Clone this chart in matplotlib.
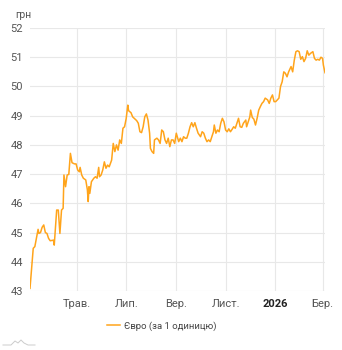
import numpy as np
import pandas as pd
import matplotlib
matplotlib.use("Agg")
import matplotlib.pyplot as plt
from matplotlib.lines import Line2D

plt.rcParams['font.family'] = ['Roboto', 'DejaVu Sans']

# Курс євро (грн за 1 EUR)
dates = [
    "2025-03-04", "2025-03-08", "2025-03-10", "2025-03-14", "2025-03-15", "2025-03-17",
    "2025-03-19", "2025-03-21", "2025-03-23", "2025-03-25", "2025-03-27", "2025-03-29",
    "2025-04-02", "2025-04-03", "2025-04-06", "2025-04-08", "2025-04-10", "2025-04-12",
    "2025-04-14", "2025-04-15", "2025-04-17", "2025-04-19", "2025-04-21", "2025-04-23",
    "2025-04-25", "2025-04-28", "2025-04-30", "2025-05-02", "2025-05-04", "2025-05-05",
    "2025-05-07", "2025-05-09", "2025-05-12", "2025-05-14", "2025-05-15", "2025-05-16",
    "2025-05-17", "2025-05-19", "2025-05-22", "2025-05-24", "2025-05-26", "2025-05-28",
    "2025-05-29", "2025-05-31", "2025-06-02", "2025-06-04", "2025-06-06", "2025-06-08",
    "2025-06-10", "2025-06-13", "2025-06-15", "2025-06-17", "2025-06-19", "2025-06-21",
    "2025-06-23", "2025-06-25", "2025-06-27", "2025-06-29", "2025-07-01", "2025-07-03",
    "2025-07-04", "2025-07-07", "2025-07-09", "2025-07-12", "2025-07-14", "2025-07-16",
    "2025-07-18", "2025-07-20", "2025-07-22", "2025-07-24", "2025-07-26", "2025-07-28",
    "2025-07-30", "2025-07-31", "2025-08-02", "2025-08-04", "2025-08-05", "2025-08-08",
    "2025-08-10", "2025-08-12", "2025-08-14", "2025-08-16", "2025-08-18", "2025-08-20",
    "2025-08-22", "2025-08-24", "2025-08-26", "2025-08-28", "2025-08-30", "2025-09-01",
    "2025-09-04", "2025-09-06", "2025-09-08", "2025-09-10", "2025-09-12", "2025-09-14",
    "2025-09-16", "2025-09-18", "2025-09-20", "2025-09-22", "2025-09-24", "2025-09-26",
    "2025-09-28", "2025-10-01", "2025-10-03", "2025-10-05", "2025-10-07", "2025-10-09",
    "2025-10-11", "2025-10-13", "2025-10-15", "2025-10-17", "2025-10-18", "2025-10-20",
    "2025-10-22", "2025-10-24", "2025-10-26", "2025-10-28", "2025-10-30", "2025-11-01",
    "2025-11-03", "2025-11-05", "2025-11-07", "2025-11-09", "2025-11-11", "2025-11-13",
    "2025-11-15", "2025-11-17", "2025-11-19", "2025-11-21", "2025-11-23", "2025-11-26",
    "2025-11-27", "2025-11-29", "2025-12-01", "2025-12-02", "2025-12-04", "2025-12-06",
    "2025-12-08", "2025-12-10", "2025-12-12", "2025-12-14", "2025-12-16", "2025-12-18",
    "2025-12-20", "2025-12-23", "2025-12-25", "2025-12-27", "2025-12-29", "2025-12-31",
    "2026-01-02", "2026-01-04", "2026-01-06", "2026-01-08", "2026-01-10", "2026-01-12",
    "2026-01-14", "2026-01-16", "2026-01-18", "2026-01-21", "2026-01-23", "2026-01-25",
    "2026-01-27", "2026-01-29", "2026-01-31", "2026-02-02", "2026-02-04", "2026-02-06",
    "2026-02-08", "2026-02-10", "2026-02-12", "2026-02-14", "2026-02-17", "2026-02-19",
    "2026-02-21", "2026-02-23", "2026-02-25", "2026-02-27", "2026-03-01", "2026-03-02",
    "2026-03-04",
]
euro = [
    43.09, 44.46, 44.52, 45.11, 44.97, 45.00,
    45.18, 45.26, 45.00, 44.97, 44.80, 44.72,
    44.74, 44.57, 45.77, 45.77, 44.97, 45.77,
    45.83, 46.97, 46.57, 46.97, 46.99, 47.71,
    47.39, 47.35, 47.35, 47.14, 47.08, 47.23,
    46.97, 46.86, 46.80, 46.46, 46.06, 46.57,
    46.34, 46.74, 46.86, 46.91, 46.86, 47.23,
    46.91, 46.97, 47.14, 47.42, 47.20, 47.31,
    47.25, 47.48, 48.05, 47.77, 48.00, 47.82,
    48.17, 48.05, 48.57, 48.62, 48.90, 49.36,
    49.17, 49.10, 48.96, 48.88, 48.83, 48.74,
    48.45, 48.42, 48.62, 48.96, 49.06, 48.85,
    48.40, 47.88, 47.77, 47.71, 48.17, 48.23,
    48.17, 48.05, 48.51, 48.45, 48.17, 48.05,
    48.23, 47.94, 48.17, 48.17, 48.05, 48.40,
    48.11, 48.23, 48.11, 48.28, 48.23, 48.23,
    48.40, 48.62, 48.76, 48.62, 48.76, 48.57,
    48.40, 48.28, 48.45, 48.40, 48.23, 48.11,
    48.17, 48.11, 48.28, 48.45, 48.68, 48.40,
    48.51, 48.45, 48.74, 48.91, 48.79, 48.51,
    48.45, 48.55, 48.45, 48.53, 48.62, 48.57,
    48.74, 48.91, 48.62, 48.60, 48.74, 48.85,
    48.62, 48.79, 48.96, 49.19, 48.94, 48.88,
    48.68, 48.91, 49.19, 49.31, 49.42, 49.48,
    49.60, 49.54, 49.42, 49.60, 49.71, 49.48,
    49.48, 49.54, 49.60, 50.00, 50.16, 50.50,
    50.45, 50.33, 50.50, 50.68, 50.50, 50.90,
    51.19, 51.22, 51.19, 50.93, 51.02, 50.85,
    50.96, 51.22, 51.07, 51.13, 51.19, 50.96,
    50.90, 50.93, 50.90, 51.00, 50.96, 50.73,
    50.47,
]

y_ticks = [43, 44, 45, 46, 47, 48, 49, 50, 51, 52]
x_tick_dates = ["2025-05-01", "2025-07-01", "2025-09-01", "2025-11-01", "2026-01-01", "2026-03-01"]
x_tick_labels = ["Трав.", "Лип.", "Вер.", "Лист.", "2026", "Бер."]

df = pd.DataFrame({'date': pd.to_datetime(dates), 'euro': euro})

fig = plt.figure(figsize=(3.42, 3.50), dpi=100)
ax = fig.add_axes([30 / 342, 1 - 291 / 350, 295 / 342, 263 / 350])

ax.plot(df['date'], df['euro'], color='#FFA41B', lw=1.1, label='Євро (за 1 одиницю)')

ax.set_xlim(df['date'].iloc[0], df['date'].iloc[-1])
ax.set_ylim(43, 52)
ax.set_yticks(y_ticks)
ax.set_xticks(pd.to_datetime(x_tick_dates))
ax.set_xticklabels(x_tick_labels)

ax.grid(True, color='#e8e8e8', lw=0.8)
ax.set_axisbelow(True)
for s in ax.spines.values():
    s.set_visible(False)
ax.tick_params(length=0, labelsize=8, colors='#555555')
ax.tick_params(axis='x', pad=6)
ax.tick_params(axis='y', pad=5)
for lbl in ax.get_xticklabels():
    if lbl.get_text() == "2026":
        lbl.set_fontweight('bold')
        lbl.set_color('#222222')

fig.text(15 / 342, 1 - 15 / 350, "грн", fontsize=7.5, color='#555555', va='center', ha='left')

fig.legend(loc='center', bbox_to_anchor=(162 / 342, 1 - 326 / 350), frameon=False,
           fontsize=6.8, handlelength=1.3, handletextpad=0.5, labelcolor='#444444')

# маленький логотип знизу ліворуч
fig.add_artist(Line2D(np.array([3, 11, 15, 18, 21, 24, 28, 35]) / 342,
                      1 - np.array([345, 345, 341, 343, 340, 343, 345, 345]) / 350,
                      color='#cccccc', lw=0.7))

fig.savefig("out.png", dpi=100)
